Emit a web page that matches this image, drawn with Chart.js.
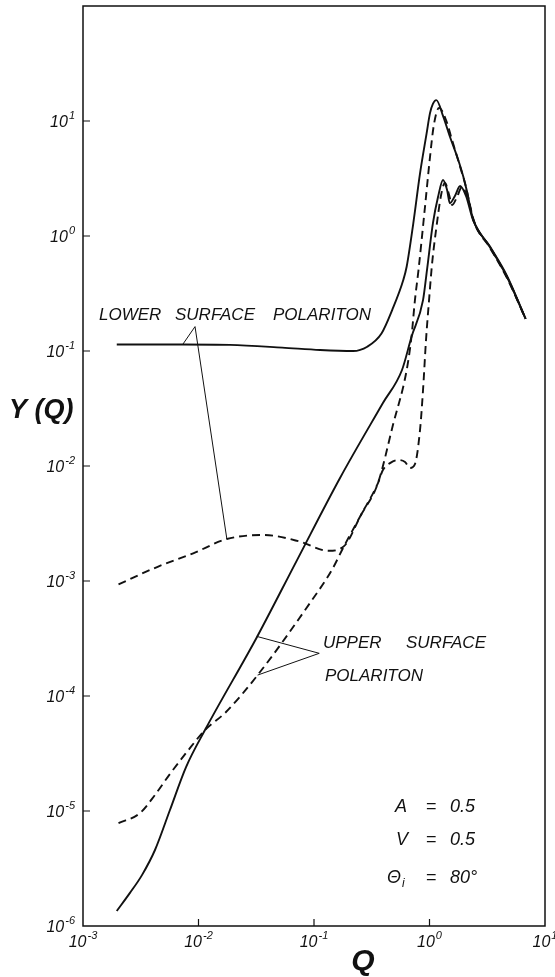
<!DOCTYPE html>
<html>
<head>
<meta charset="utf-8">
<script src="https://cdn.jsdelivr.net/npm/chart.js@4.4.1/dist/chart.umd.min.js"></script>
<style>
  html, body { margin: 0; padding: 0; background: #fff; }
  #wrap { width: 555px; height: 977px; }
</style>
</head>
<body>
<div id="wrap"><canvas id="myChart"></canvas></div>
<script>
// axis decades
const qTicks = [1e-3, 1e-2, 1e-1, 1, 10];
const yTicks = [1e-6, 1e-5, 1e-4, 1e-3, 1e-2, 1e-1, 1, 10, 100];

// lower surface polariton, solid
const lspSolidQ = [0.00196, 0.0073, 0.0187, 0.053, 0.113, 0.218, 0.289, 0.384, 0.475, 0.593, 0.634, 0.724, 0.828, 0.944, 1.01, 1.07, 1.146, 1.316, 1.503, 1.775, 1.963, 2.10, 2.38, 3.34, 4.69, 6.8];
const lspSolidY = [0.114, 0.114, 0.113, 0.107, 0.102, 0.100, 0.109, 0.142, 0.227, 0.414, 0.54, 1.29, 3.5, 7.8, 11.7, 14.1, 15.2, 10.9, 7.3, 4.58, 3.28, 2.50, 1.41, 0.81, 0.45, 0.19];

// lower surface polariton, dashed
const lspDashQ = [0.00203, 0.00443, 0.009, 0.0176, 0.0371, 0.0757, 0.133, 0.182, 0.255, 0.358, 0.483, 0.634, 0.698, 0.748, 0.803, 0.914, 1.01, 1.09, 1.21, 1.39, 1.57, 1.80, 2.03, 2.43, 3.34, 4.69, 6.8];
const lspDashY = [9.35e-4, 1.33e-3, 1.74e-3, 2.32e-3, 2.51e-3, 2.2e-3, 1.83e-3, 2.01e-3, 3.75e-3, 7.11e-3, 0.0228, 0.068, 0.1325, 0.277, 0.506, 1.79, 4.86, 9.2, 13.0, 10.2, 6.8, 4.3, 2.87, 1.35, 0.80, 0.44, 0.19];

// upper surface polariton, solid
const uspSolidQ = [0.00196, 0.00255, 0.00324, 0.0042, 0.00566, 0.0078, 0.01138, 0.0321, 0.0713, 0.168, 0.395, 0.578, 0.698, 0.879, 0.951, 1.072, 1.185, 1.31, 1.42, 1.50, 1.66, 1.84, 2.07, 2.38, 3.34, 4.69, 6.8];
const uspSolidY = [1.35e-6, 1.94e-6, 2.77e-6, 4.58e-6, 1.02e-5, 2.41e-5, 5.06e-5, 3.26e-4, 1.52e-3, 7.87e-3, 0.0353, 0.0684, 0.1325, 0.277, 0.506, 1.30, 2.18, 3.07, 2.51, 1.93, 2.23, 2.72, 2.23, 1.38, 0.80, 0.44, 0.19];

// upper surface polariton, dashed
const uspDashQ = [0.00203, 0.00312, 0.0042, 0.00566, 0.0078, 0.01138, 0.0173, 0.0325, 0.0923, 0.143, 0.182, 0.255, 0.358, 0.395, 0.455, 0.533, 0.614, 0.678, 0.748, 0.828, 0.879, 0.933, 0.991, 1.05, 1.14, 1.26, 1.36, 1.48, 1.57, 1.73, 1.91, 2.15, 2.43, 3.34, 4.69, 6.8];
const uspDashY = [7.86e-6, 9.6e-6, 1.38e-5, 2.1e-5, 3.19e-5, 5.06e-5, 7.26e-5, 1.52e-4, 6.44e-4, 1.25e-3, 2.01e-3, 3.75e-3, 7.11e-3, 9.23e-3, 0.0106, 0.01127, 0.01084, 0.00962, 0.0104, 0.0206, 0.0458, 0.125, 0.277, 0.56, 1.13, 2.27, 2.89, 2.27, 1.86, 2.18, 2.67, 2.10, 1.32, 0.787, 0.431, 0.19];

// leader lines from the labels to the curves
const lowerLeaderQ = [0.0073, 0.00933, 0.0176];
const lowerLeaderY = [0.114, 0.163, 2.32e-3];
const upperLeaderQ = [0.0319, 0.111, 0.0325];
const upperLeaderY = [3.3e-4, 2.35e-4, 1.52e-4];

const FONT = '"Liberation Sans", Arial, sans-serif';

function expOf(v) {
  return String(Math.round(Math.log10(v)));
}

function pts(qs, ys) {
  return qs.map((q, i) => ({ x: q, y: ys[i] }));
}

function curve(qs, ys, dashed) {
  return {
    data: pts(qs, ys),
    borderColor: '#111',
    borderWidth: 1.9,
    borderDash: dashed ? [8, 5] : [],
    pointRadius: 0,
    cubicInterpolationMode: 'monotone',
    fill: false,
  };
}

function leader(qs, ys) {
  return {
    data: pts(qs, ys),
    borderColor: '#111',
    borderWidth: 1,
    pointRadius: 0,
    tension: 0,
    fill: false,
  };
}

// "10" with a raised exponent; anchor 'right' or 'center'
function drawPow(ctx, v, x, y, anchor) {
  const base = '10';
  const ex = expOf(v);
  ctx.font = 'italic 16px ' + FONT;
  const w1 = ctx.measureText(base).width;
  ctx.font = 'italic 11px ' + FONT;
  const w2 = ctx.measureText(ex).width;
  const total = w1 + w2 + 1;
  const x0 = anchor === 'right' ? x - total : x - total / 2;
  ctx.font = 'italic 16px ' + FONT;
  ctx.fillText(base, x0, y);
  ctx.font = 'italic 11px ' + FONT;
  ctx.fillText(ex, x0 + w1 + 1, y - 8);
}

const frame = {
  id: 'frame',
  afterDraw(chart) {
    const { ctx, chartArea: a, scales } = chart;
    ctx.save();
    ctx.strokeStyle = '#111';
    ctx.lineWidth = 1.5;
    ctx.strokeRect(a.left, a.top, a.right - a.left, a.bottom - a.top);

    // inward tick marks
    ctx.lineWidth = 1.2;
    ctx.beginPath();
    yTicks.slice(1, -1).forEach(v => {
      const y = scales.y.getPixelForValue(v);
      ctx.moveTo(a.left, y);
      ctx.lineTo(a.left + 7, y);
    });
    qTicks.slice(1, -1).forEach(v => {
      const x = scales.x.getPixelForValue(v);
      ctx.moveTo(x, a.bottom);
      ctx.lineTo(x, a.bottom - 7);
    });
    ctx.stroke();

    ctx.fillStyle = '#111';
    ctx.textBaseline = 'alphabetic';
    ctx.textAlign = 'left';

    // tick labels
    yTicks.slice(0, -1).forEach(v => {
      drawPow(ctx, v, a.left - 8, scales.y.getPixelForValue(v) + 6, 'right');
    });
    qTicks.forEach(v => {
      drawPow(ctx, v, scales.x.getPixelForValue(v), a.bottom + 21, 'center');
    });

    // curve labels
    ctx.font = 'italic 17px ' + FONT;
    ctx.fillText('LOWER', 99, 320);
    ctx.fillText('SURFACE', 175, 320);
    ctx.fillText('POLARITON', 273, 320);
    ctx.fillText('UPPER', 323, 648);
    ctx.fillText('SURFACE', 406, 648);
    ctx.fillText('POLARITON', 325, 681);

    // parameters
    ctx.font = 'italic 18px ' + FONT;
    ctx.textAlign = 'right';
    ctx.fillText('A', 407, 812);
    ctx.fillText('V', 408, 845);
    ctx.fillText('\u0398', 401, 883);
    ctx.font = 'italic 12px ' + FONT;
    ctx.textAlign = 'left';
    ctx.fillText('i', 402, 887);
    ctx.font = 'italic 18px ' + FONT;
    ctx.textAlign = 'center';
    ctx.fillText('=', 431, 812);
    ctx.fillText('=', 431, 845);
    ctx.fillText('=', 431, 883);
    ctx.textAlign = 'left';
    ctx.fillText('0.5', 450, 812);
    ctx.fillText('0.5', 450, 845);
    ctx.fillText('80\u00B0', 450, 883);

    // axis titles
    ctx.font = 'bold italic 27px ' + FONT;
    ctx.fillText('Y (Q)', 9, 418);
    ctx.font = 'bold italic 30px ' + FONT;
    ctx.textAlign = 'center';
    ctx.fillText('Q', 363, 970);
    ctx.restore();
  },
};

const ctx = document.getElementById('myChart').getContext('2d');
const chart = new Chart(ctx, {
  type: 'line',
  data: {
    datasets: [
      curve(lspSolidQ, lspSolidY, false),
      curve(lspDashQ, lspDashY, true),
      curve(uspSolidQ, uspSolidY, false),
      curve(uspDashQ, uspDashY, true),
      leader(lowerLeaderQ, lowerLeaderY),
      leader(upperLeaderQ, upperLeaderY),
    ],
  },
  options: {
    responsive: true,
    maintainAspectRatio: false,
    animation: false,
    layout: { padding: { top: 6, right: 10, left: 0, bottom: 0 } },
    plugins: { legend: { display: false }, tooltip: { enabled: false } },
    scales: {
      x: {
        type: 'logarithmic',
        min: 1e-3,
        max: 10,
        grid: { display: false, drawTicks: false },
        border: { display: false },
        ticks: { display: false },
        afterBuildTicks: (scale) => { scale.ticks = qTicks.map(v => ({ value: v })); },
        afterFit: (scale) => {
          scale.height = 51;
          scale.paddingLeft = 0;
          scale.paddingRight = 0;
        },
      },
      y: {
        type: 'logarithmic',
        min: 1e-6,
        max: 100,
        grid: { display: false, drawTicks: false },
        border: { display: false },
        ticks: { display: false },
        afterBuildTicks: (scale) => { scale.ticks = yTicks.map(v => ({ value: v })); },
        afterFit: (scale) => {
          scale.width = 83;
          scale.paddingTop = 0;
          scale.paddingBottom = 0;
        },
      },
    },
  },
  plugins: [frame],
});
</script>
</body>
</html>
